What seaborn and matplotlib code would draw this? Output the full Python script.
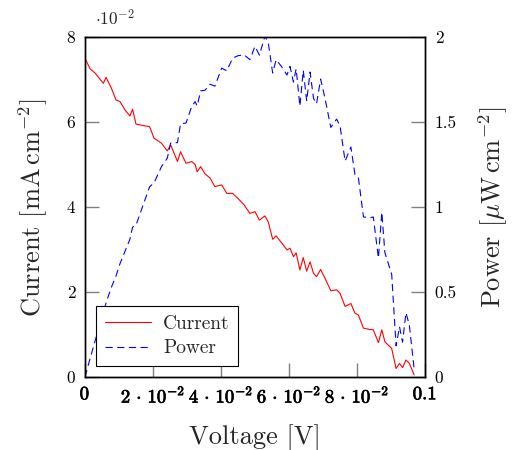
import matplotlib
matplotlib.use("Agg")
import matplotlib.pyplot as plt
import matplotlib.patheffects as pe
import seaborn as sns
from matplotlib.ticker import FixedLocator
from matplotlib.lines import Line2D

# Data (voltage in V, current in 1e-2 mA/cm^2, power in uW/cm^2)
voltage = [0.0, 0.0015, 0.003, 0.0054, 0.0062, 0.0078, 0.0091, 0.0103, 0.0118, 0.0132,
           0.014, 0.015, 0.0176, 0.019, 0.0203, 0.0225, 0.0242, 0.0252, 0.0272, 0.0281,
           0.0297, 0.0314, 0.0324, 0.033, 0.034, 0.0353, 0.0368, 0.0382, 0.0402, 0.0417,
           0.0434, 0.045, 0.0468, 0.0485, 0.050, 0.0513, 0.0529, 0.0539, 0.0552, 0.0562,
           0.0579, 0.0594, 0.0603, 0.0613, 0.0621, 0.0632, 0.0642, 0.0652, 0.0662, 0.0672,
           0.0681, 0.0693, 0.0706, 0.0723, 0.0740, 0.075, 0.0765, 0.0782, 0.0794, 0.0804,
           0.0819, 0.0836, 0.0848, 0.0863, 0.0873, 0.0882, 0.0902, 0.0915, 0.0925, 0.0934,
           0.0944, 0.0954, 0.0968]
current = [7.5, 7.25, 7.15, 6.91, 7.05, 6.79, 6.52, 6.48, 6.28, 6.14,
           6.30, 5.95, 5.91, 5.89, 5.62, 5.50, 5.32, 5.46, 5.07, 5.30,
           5.03, 5.07, 5.00, 4.83, 4.95, 4.78, 4.68, 4.48, 4.52, 4.32,
           4.32, 4.20, 4.05, 3.85, 3.89, 3.69, 3.79, 3.65, 3.24, 3.32,
           3.15, 2.99, 3.03, 2.83, 2.92, 2.52, 2.81, 2.49, 2.71, 2.44,
           2.36, 2.53, 2.32, 2.03, 2.05, 1.97, 1.66, 1.73, 1.50, 1.46,
           1.15, 1.12, 1.11, 0.81, 1.11, 0.83, 0.67, 0.20, 0.32, 0.22,
           0.40, 0.32, 0.05]
power = [0.0, 0.109, 0.215, 0.373, 0.437, 0.530, 0.593, 0.667, 0.741, 0.810,
         0.882, 0.893, 1.040, 1.119, 1.141, 1.238, 1.287, 1.376, 1.379, 1.489,
         1.494, 1.592, 1.620, 1.594, 1.683, 1.687, 1.722, 1.711, 1.817, 1.801,
         1.875, 1.890, 1.895, 1.867, 1.945, 1.893, 2.005, 1.967, 1.788, 1.866,
         1.824, 1.776, 1.827, 1.735, 1.813, 1.593, 1.804, 1.623, 1.794, 1.640,
         1.607, 1.753, 1.638, 1.468, 1.517, 1.478, 1.270, 1.353, 1.191, 1.174,
         0.942, 0.936, 0.941, 0.699, 0.969, 0.732, 0.604, 0.183, 0.296, 0.205,
         0.378, 0.305, 0.048]

x_ticks = [0, 0.02, 0.04, 0.06, 0.08, 0.1]
x_labels = [r"$\mathbf{0}$", r"$\mathbf{2\,\cdot\,10^{-2}}$", r"$\mathbf{4\,\cdot\,10^{-2}}$",
            r"$\mathbf{6\,\cdot\,10^{-2}}$", r"$\mathbf{8\,\cdot\,10^{-2}}$", r"$\mathbf{0.1}$"]
yl_ticks = [0, 2, 4, 6, 8]
yr_ticks = [0, 0.5, 1, 1.5, 2]
yr_labels = ["0", "0.5", "1", "1.5", "2"]

sns.set_theme(style="white")
plt.rcParams["font.family"] = ["cmr10", "DejaVu Serif"]
plt.rcParams["mathtext.fontset"] = "cm"
plt.rcParams["axes.formatter.use_mathtext"] = True

fig = plt.figure(figsize=(5.14, 4.5), dpi=100)
ax = fig.add_axes([85/514, 73/450, 340/514, 340/450])
ax2 = ax.twinx()

sns.lineplot(x=voltage, y=current, ax=ax, color="red", linewidth=0.8, sort=False)
sns.lineplot(x=voltage, y=power, ax=ax2, color="blue", linewidth=0.8, sort=False,
             linestyle=(0, (6.5, 4)))

ax.set_xlim(0, 0.1)
ax.set_ylim(0, 8)
ax2.set_ylim(0, 2)

ax.xaxis.set_major_locator(FixedLocator(x_ticks))
ax.set_xticklabels(x_labels)
ax.yaxis.set_major_locator(FixedLocator(yl_ticks))
ax.set_yticklabels([str(v) for v in yl_ticks])
ax2.yaxis.set_major_locator(FixedLocator(yr_ticks))
ax2.set_yticklabels(yr_labels)

tick_kw = dict(direction="in", length=10, width=1, color="#808080", labelcolor="black")
ax.tick_params(axis="x", bottom=True, top=False, pad=6, labelsize=13.5, **tick_kw)
ax.tick_params(axis="y", left=True, right=False, pad=7, labelsize=12.5, **tick_kw)
ax2.tick_params(axis="y", left=False, right=True, pad=7, labelsize=12.5, **tick_kw)
for lbl in ax.get_xticklabels():
    lbl.set_path_effects([pe.withStroke(linewidth=0.5, foreground="black")])

for a in (ax, ax2):
    for s in a.spines.values():
        s.set_color("black")
        s.set_linewidth(1.0)
        s.set_visible(True)

ax.set_xlabel("Voltage [V]", fontsize=19, labelpad=13)
ax.set_ylabel(r"Current $[\mathrm{mA\,cm^{-2}}]$", fontsize=19, labelpad=12)
ax2.set_ylabel(r"Power $[\mathrm{\mu W\,cm^{-2}}]$", fontsize=19, labelpad=14)

ax.text(0.03, 1.025, r"$\cdot10^{-2}$", transform=ax.transAxes, fontsize=12.5,
        ha="left", va="bottom")

handles = [Line2D([], [], color="red", linewidth=0.8),
           Line2D([], [], color="blue", linewidth=0.8, linestyle=(0, (6.5, 4)))]
leg = ax2.legend(handles, ["Current", "Power"], loc="lower left",
                 bbox_to_anchor=(0.032, 0.032), borderaxespad=0, fontsize=14,
                 fancybox=False, framealpha=1, edgecolor="black", handlelength=2.4,
                 handletextpad=0.6, borderpad=0.45, labelspacing=0.35)
leg.get_frame().set_linewidth(0.8)

fig.savefig("out.png", dpi=100)
